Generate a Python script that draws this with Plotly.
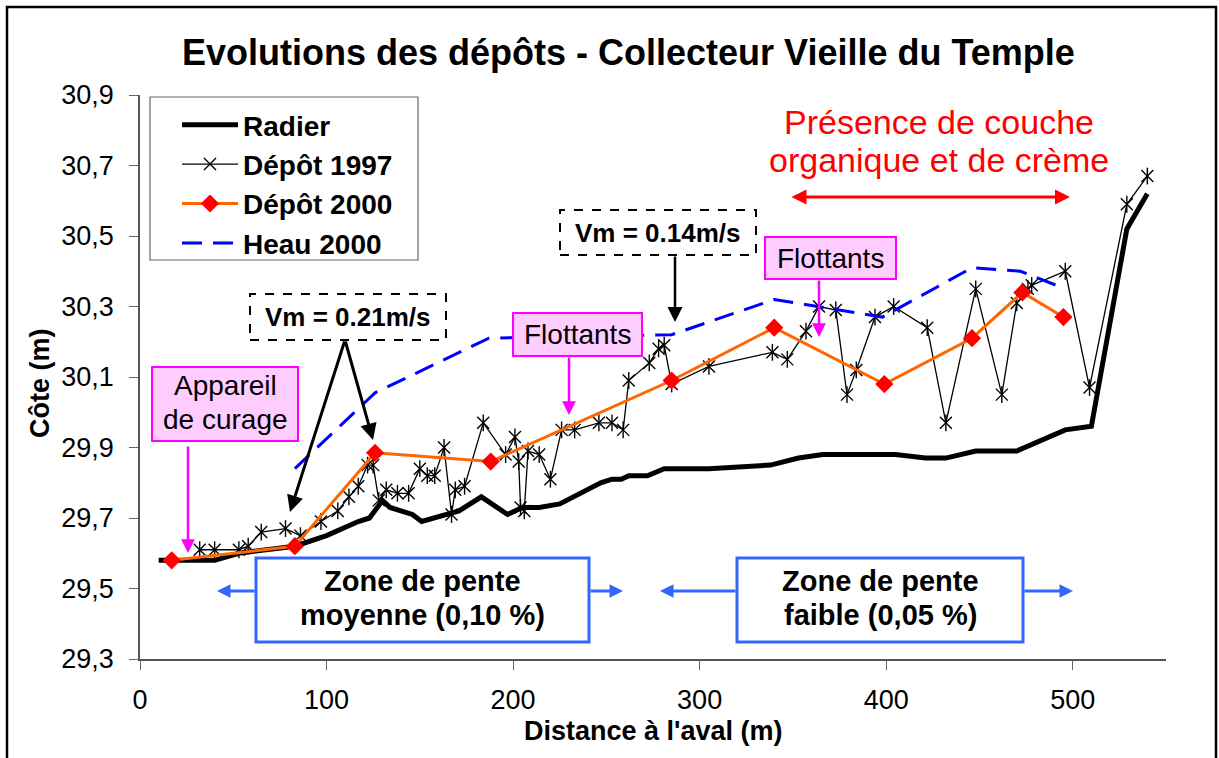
import plotly.graph_objects as go

# ---------------- data ----------------
radier_x = [10, 40, 53, 83, 100, 117, 123, 130, 134, 146, 151, 158, 166, 171, 183, 197, 205, 214,
            225, 236, 247, 253, 258, 262, 272, 281, 305, 338, 353, 366, 405, 421, 432, 448, 470,
            496, 510, 529, 540]
radier_y = [29.58, 29.58, 29.60, 29.62, 29.65, 29.69, 29.70, 29.75, 29.73, 29.71, 29.69, 29.70,
            29.71, 29.72, 29.76, 29.71, 29.73, 29.73, 29.74, 29.77, 29.80, 29.81, 29.81, 29.82,
            29.82, 29.84, 29.84, 29.85, 29.87, 29.88, 29.88, 29.87, 29.87, 29.89, 29.89, 29.95,
            29.96, 30.52, 30.62]

depot1997_x = [32, 40, 53, 58, 65, 78, 86, 97, 106, 112, 117, 122, 125, 128, 132, 138, 144, 150,
               154, 158, 163, 167, 169, 174, 184, 196, 201, 203, 204, 206, 208, 214, 220, 226, 233,
               246, 253, 259, 262, 273, 278, 281, 285, 305, 339, 347, 357, 364, 373, 379, 384, 394,
               404, 422, 432, 448, 462, 470, 476, 478, 496, 509, 529, 540]
depot1997_y = [29.61, 29.61, 29.61, 29.62, 29.66, 29.67, 29.65, 29.69, 29.72, 29.76,
               29.79, 29.85, 29.85, 29.75, 29.78, 29.77, 29.77, 29.84, 29.82, 29.82,
               29.90, 29.71, 29.78, 29.79, 29.97, 29.88, 29.93, 29.86, 29.73, 29.72,
               29.89, 29.88, 29.81, 29.95, 29.95, 29.97, 29.97, 29.95, 30.09, 30.14,
               30.18, 30.19, 30.08, 30.13, 30.17, 30.15, 30.23, 30.30, 30.29, 30.05,
               30.12, 30.27, 30.30, 30.24, 29.97, 30.35, 30.05, 30.31, 30.35, 30.36,
               30.40, 30.07, 30.59, 30.67]

depot2000_x = [17, 83, 126, 188, 285, 340, 399, 446, 473, 495]
depot2000_y = [29.58, 29.62, 29.885, 29.86, 30.09, 30.24, 30.08, 30.21, 30.34, 30.27]

heau2000_x = [83, 126, 187, 285, 340, 398, 446, 472, 496]
heau2000_y = [29.84, 30.055, 30.21, 30.22, 30.32, 30.27, 30.41, 30.40, 30.35]

x_ticks = [0, 100, 200, 300, 400, 500]
y_ticks = [29.3, 29.5, 29.7, 29.9, 30.1, 30.3, 30.5, 30.7, 30.9]

# ---------------- layout helpers (pixel -> paper) ----------------
L, R, T, B = 140, 53, 95, 99
W, H = 1219, 758
PW, PH = W - L - R, H - T - B


def X(px):
    return (px - L) / PW


def Y(py):
    return (H - B - py) / PH


FONT = "Liberation Sans, Arial, sans-serif"

fig = go.Figure()
fig.add_trace(go.Scatter(x=radier_x, y=radier_y, mode="lines", name="Radier",
                         line=dict(color="black", width=5), legendgroup="g1"))
fig.add_trace(go.Scatter(x=depot1997_x, y=depot1997_y, mode="lines+markers", name="Dépôt 1997",
                         line=dict(color="black", width=1.3),
                         marker=dict(symbol="x-thin-open", size=12, color="black",
                                     line=dict(color="black", width=1.4)),
                         legendgroup="g2"))
fig.add_trace(go.Scatter(x=depot1997_x, y=depot1997_y, mode="markers", showlegend=False,
                         marker=dict(symbol="line-ns-open", size=12, color="black",
                                     line=dict(color="black", width=1.4)),
                         legendgroup="g2"))
fig.add_trace(go.Scatter(x=depot2000_x, y=depot2000_y, mode="lines+markers", name="Dépôt 2000",
                         line=dict(color="#FF6600", width=3),
                         marker=dict(symbol="diamond", size=14, color="#FF0000"),
                         legendgroup="g3"))
fig.add_trace(go.Scatter(x=heau2000_x, y=heau2000_y, mode="lines", name="Heau 2000",
                         line=dict(color="#0000FF", width=3, dash="20px,11px"),
                         legendgroup="g4"))

shapes = []


def rect(x0, y0, x1, y1, color, width, dash="solid", fill="white"):
    shapes.append(dict(type="rect", xref="paper", yref="paper",
                       x0=X(x0), x1=X(x1), y0=Y(y1), y1=Y(y0),
                       line=dict(color=color, width=width, dash=dash),
                       fillcolor=fill, layer="above"))


# outer frame
shapes.append(dict(type="rect", xref="paper", yref="paper", x0=X(7), x1=X(1216), y0=Y(775), y1=Y(7),
                   line=dict(color="black", width=2.5), fillcolor="rgba(0,0,0,0)", layer="below"))
# legend frame
rect(150, 97, 418, 260, "#666666", 1.2, fill="rgba(0,0,0,0)")
# boxes
rect(250, 294, 446, 340, "black", 2, dash="dash")
rect(560, 210, 756, 255, "black", 2, dash="dash")
rect(513, 313, 642, 356, "#FF00FF", 2, fill="#FFCCFF")
rect(765, 237, 896, 279, "#FF00FF", 2, fill="#FFCCFF")
rect(152, 367, 298, 441, "#FF00FF", 2, fill="#FFCCFF")
rect(256, 558, 589, 642, "#3366FF", 3)
rect(737, 558, 1023, 642, "#3366FF", 3)

annotations = []


def text(px, py, t, size, color="black", bold=False, angle=0):
    annotations.append(dict(x=X(px), y=Y(py), xref="paper", yref="paper", text=t,
                            showarrow=False, xanchor="center", yanchor="middle", textangle=angle,
                            font=dict(family=FONT, size=size, color=color,
                                      weight="bold" if bold else "normal")))


def arrow(tail, tip, color, width, size, both=False):
    d = dict(x=X(tip[0]), y=Y(tip[1]), xref="paper", yref="paper",
             ax=tail[0] - tip[0], ay=tail[1] - tip[1], axref="pixel", ayref="pixel",
             text="", showarrow=True, arrowhead=2, arrowsize=size, arrowwidth=width,
             arrowcolor=color, standoff=0, startstandoff=0)
    if both:
        d.update(arrowside="end+start", startarrowhead=2, startarrowsize=size)
    annotations.append(d)


text(628, 53, "Evolutions des dépôts - Collecteur Vieille du Temple", 36, bold=True)
text(653, 731, "Distance à l'aval (m)", 27, bold=True)
text(40, 383, "Côte (m)", 27, bold=True, angle=-90)
text(939, 122, "Présence de couche", 34, color="#FF0000")
text(939, 160, "organique et de crème", 34, color="#FF0000")
arrow((790, 197), (1070, 197), "#FF0000", 3, 1.0, both=True)

text(348, 317, "Vm = 0.21m/s", 26, bold=True)
text(658, 233, "Vm = 0.14m/s", 26, bold=True)
arrow((345, 340), (290, 512), "black", 3, 1.1)
arrow((345, 340), (373, 440), "black", 3, 1.1)
arrow((675, 255), (675, 322), "black", 2.5, 1.2)

text(577, 334, "Flottants", 28)
text(830, 258, "Flottants", 28)
text(225, 385, "Appareil", 28)
text(225, 419, "de curage", 28)
arrow((569, 356), (569, 415), "#FF00FF", 2.5, 1.1)
arrow((819, 279), (819, 337), "#FF00FF", 2.5, 1.1)
arrow((188, 445), (188, 553), "#FF00FF", 2.5, 1.1)

text(422, 581, "Zone de pente", 29, bold=True)
text(422, 615, "moyenne (0,10 %)", 29, bold=True)
text(880, 581, "Zone de pente", 29, bold=True)
text(880, 615, "faible (0,05 %)", 29, bold=True)
arrow((256, 591), (217, 591), "#3366FF", 3, 0.9)
arrow((589, 591), (623, 591), "#3366FF", 3, 0.9)
arrow((737, 591), (660, 591), "#3366FF", 3, 0.9)
arrow((1023, 591), (1073, 591), "#3366FF", 3, 0.9)

fig.update_layout(
    width=W, height=H,
    margin=dict(l=L, r=R, t=T, b=B, pad=0),
    paper_bgcolor="white", plot_bgcolor="white",
    separators=", ",
    font=dict(family=FONT, color="black"),
    showlegend=True,
    legend=dict(x=X(177), y=Y(100), xanchor="left", yanchor="top",
                bgcolor="rgba(0,0,0,0)", borderwidth=0,
                font=dict(family=FONT, size=28, weight="bold", color="black"),
                traceorder="grouped", tracegroupgap=0, itemwidth=56),
    shapes=shapes,
    annotations=annotations,
    xaxis=dict(range=[0, 550], tickvals=x_ticks, ticks="outside", ticklen=9,
               tickcolor="#666666", showline=True, linecolor="#555555", linewidth=1.5,
               showgrid=False, zeroline=False, ticklabelstandoff=7,
               tickfont=dict(family=FONT, size=27)),
    yaxis=dict(range=[29.3, 30.9], tickvals=y_ticks, tickformat=".1f", ticks="outside",
               ticklen=9, tickcolor="#666666", showline=True, linecolor="#555555",
               linewidth=1.5, showgrid=False, zeroline=False, ticklabelstandoff=10,
               tickfont=dict(family=FONT, size=27)),
)

fig.write_html("out.html", config={"displayModeBar": False},
               post_script="document.body.style.margin='0';document.body.style.overflow='hidden';")
